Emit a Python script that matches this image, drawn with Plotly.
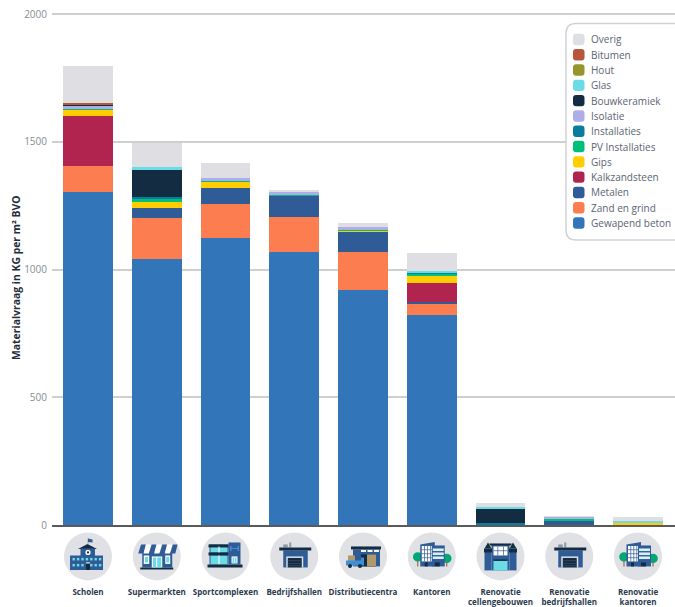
import plotly.graph_objects as go

categories = ["Scholen", "Supermarkten", "Sportcomplexen", "Bedrijfshallen", "Distributiecentra", "Kantoren",
              "Renovatie<br>cellengebouwen", "Renovatie<br>bedrijfshallen", "Renovatie<br>kantoren"]

beton = [1303, 1040, 1124, 1068, 920, 822, 0, 0, 0]
zand = [101, 161, 132, 137, 148, 43, 0, 0, 0]
metalen = [0, 39, 62, 83, 82, 8, 0, 17, 1]
kalkzandsteen = [196, 0, 0, 0, 0, 74, 0, 0, 0]
gips = [23, 23, 28, 0, 3, 27, 0, 0, 7]
pv = [8, 12, 4, 4, 3, 8, 0, 8, 1]
installaties = [1, 8, 0, 0, 0, 8, 6, 0, 0]
isolatie = [7, 0, 7, 15, 9, 0, 0, 8, 0]
bouwkeramiek = [8, 110, 0, 0, 0, 0, 59, 0, 0]
glas = [0, 7, 0, 0, 0, 4, 7, 0, 8]
hout = [0, 0, 0, 0, 0, 0, 0, 0, 0]
bitumen = [3, 0, 0, 0, 0, 0, 0, 0, 0]
overig = [145, 95, 59, 5, 17, 70, 16, 1, 16]

series = [
    ("Gewapend beton", beton, "#3375b9"),
    ("Zand en grind", zand, "#fc7d50"),
    ("Metalen", metalen, "#2f5b96"),
    ("Kalkzandsteen", kalkzandsteen, "#b0244f"),
    ("Gips", gips, "#ffcd00"),
    ("PV Installaties", pv, "#00bf7d"),
    ("Installaties", installaties, "#0a7d9e"),
    ("Isolatie", isolatie, "#aeadea"),
    ("Bouwkeramiek", bouwkeramiek, "#142c42"),
    ("Glas", glas, "#6bdce6"),
    ("Hout", hout, "#96962d"),
    ("Bitumen", bitumen, "#b8553a"),
    ("Overig", overig, "#dfdfe3"),
]

# plot area in page pixels, used for the decoration only
LEFT, RIGHT, TOP, BOTTOM = 52, 675, 11.5, 525.5
STEP = 68.75
FIRST = 88
PX_PER_UNIT = 0.256

NAVY = "#2f5b96"
DARK = "#142c42"
CYAN = "#6bdce6"
WHITE = "#ffffff"
GREY = "#dfe1e4"
GREEN = "#00a878"
BROWN = "#a8664e"
TAN = "#b09a6a"
SLATE = "#8d99a6"


def px(x):
    return (x - LEFT) / (RIGHT - LEFT)


def py(y):
    return (BOTTOM - y) / (BOTTOM - TOP)


shapes = []


def rect(x0, y0, x1, y1, color, layer="above"):
    shapes.append(dict(type="rect", xref="paper", yref="paper", x0=px(x0), x1=px(x1), y0=py(y0), y1=py(y1),
                       fillcolor=color, line_width=0, layer=layer))


def circle(cx, cy, r, color):
    shapes.append(dict(type="circle", xref="paper", yref="paper", x0=px(cx - r), x1=px(cx + r),
                       y0=py(cy - r), y1=py(cy + r), fillcolor=color, line_width=0, layer="above"))


def poly(points, color):
    path = "M" + "L".join(f"{px(x)},{py(y)}" for x, y in points) + "Z"
    shapes.append(dict(type="path", xref="paper", yref="paper", path=path, fillcolor=color, line_width=0, layer="above"))


def rounded(x0, y0, x1, y1, r, fill, line=None, width=0):
    # rounded box, written out in pixels and scaled by hand
    rx, ry = r / (RIGHT - LEFT), r / (BOTTOM - TOP)
    a, b, c, d = px(x0), px(x1), py(y0), py(y1)
    path = (f"M{a + rx},{c} L{b - rx},{c} Q{b},{c} {b},{c - ry} L{b},{d + ry} Q{b},{d} {b - rx},{d} "
            f"L{a + rx},{d} Q{a},{d} {a},{d + ry} L{a},{c - ry} Q{a},{c} {a + rx},{c} Z")
    shapes.append(dict(type="path", xref="paper", yref="paper", path=path, fillcolor=fill,
                       line=dict(color=line or fill, width=width), layer="above"))


def icon_school(c):
    poly([(c - 0.5, 544.5), (c + 9, 549.5), (c - 10, 549.5)], DARK)
    rect(c - 0.4, 539, c + 0.4, 545, SLATE)
    poly([(c, 539), (c + 4.5, 540), (c + 4.5, 543), (c, 542.5)], NAVY)
    rect(c - 7.5, 549, c + 7, 558, NAVY)
    rect(c - 18, 556, c + 15, 570.5, NAVY)
    circle(c, 553, 2.6, WHITE)
    circle(c, 553, 1.1, DARK)
    for i in range(7):
        x = c - 15.5 + i * 4.4
        rect(x, 558.5, x + 2.4, 561, CYAN)
        if i != 3:
            rect(x, 564.5, x + 2.4, 567, CYAN)
    rect(c - 2, 564, c + 2, 570.5, DARK)
    rect(c - 2, 563, c + 2, 564, WHITE)


def icon_shop(c):
    rect(c - 14.5, 553, c + 15.5, 568, NAVY)
    rect(c - 16.5, 568, c + 16.5, 570, DARK)
    for i in range(7):
        x = c - 18.5 + i * 5.3
        poly([(x + 2.8, 545), (x + 7.5, 545), (x + 5.3, 554), (x, 554)], WHITE if i % 2 else NAVY)
    rect(c - 13, 556, c - 7.5, 564.5, WHITE)
    rect(c - 11.8, 557.5, c - 8.7, 563, CYAN)
    rect(c + 8.5, 556, c + 13.5, 564.5, WHITE)
    rect(c + 9.5, 557.5, c + 12.5, 563, CYAN)
    rect(c - 5, 557, c + 5.5, 568, WHITE)
    rect(c - 3.8, 558, c - 0.5, 568, CYAN)
    rect(c + 0.5, 558, c + 4.5, 568, CYAN)


def icon_sport(c):
    rect(c + 3, 543, c + 15, 565, NAVY)
    rect(c - 16, 545, c + 3, 565, NAVY)
    rect(c - 15, 547, c + 2, 553, CYAN)
    rect(c - 15, 556, c + 2, 565, CYAN)
    rect(c - 17, 545, c + 3, 548, DARK)
    rect(c - 17, 553, c + 3, 556, DARK)
    rect(c - 7, 547, c - 6, 553, WHITE)
    rect(c - 7, 556, c - 6, 565, WHITE)
    rect(c + 5, 548.5, c + 13, 549.5, "#3f8fd6")
    rect(c + 4.5, 546.5, c + 6, 551.5, "#3f8fd6")
    rect(c + 12, 546.5, c + 13.5, 551.5, "#3f8fd6")
    rect(c + 6, 557, c + 12, 564, WHITE)
    rect(c + 7, 558, c + 8.7, 564, CYAN)
    rect(c + 9.3, 558, c + 11, 564, CYAN)
    rect(c - 18, 565, c + 17, 568, DARK)


def icon_hall(c):
    rect(c - 11, 545, c - 6.5, 548, SLATE)
    rect(c - 5, 543, c - 3, 548, SLATE)
    rect(c - 11, 551, c + 13.5, 568, NAVY)
    rect(c - 15, 548, c + 17, 551, DARK)
    rect(c - 8, 557, c + 9, 568, GREY)
    rect(c - 6.5, 558.5, c + 7.5, 568, DARK)
    for y in (561, 563.5, 566):
        rect(c - 6.5, y, c + 7.5, y + 0.7, "#3b5166")


def icon_depot(c):
    rect(c - 10, 550, c + 17, 567, NAVY)
    rect(c - 12, 547, c + 18, 550, DARK)
    for i in range(3):
        rect(c - 2 + i * 6.5, 550.5, c + 3 + i * 6.5, 552.5, WHITE)
    rect(c - 2, 555, c + 13, 567, DARK)
    rect(c + 4, 555, c + 13, 567, TAN)
    rect(c - 15, 556, c - 8, 566, TAN)
    poly([(c - 17, 561), (c - 2, 561), (c - 2, 558), (c + 1, 558), (c + 1, 566), (c - 17, 566)], "#3f8fd6")
    circle(c - 13, 566.5, 2, DARK)
    circle(c - 3, 566.5, 2, DARK)


def icon_office(c):
    circle(c - 14, 557.5, 4.8, GREEN)
    rect(c - 14.6, 561, c - 13.4, 567, BROWN)
    circle(c + 15, 559, 4.8, GREEN)
    rect(c + 14.4, 562, c + 15.6, 567, BROWN)
    poly([(c - 11.5, 545), (c + 3, 542.5), (c + 3, 567), (c - 11.5, 567)], NAVY)
    rect(c, 546, c + 13, 567, NAVY)
    rect(c - 10, 546.5, c, 562, WHITE)
    for x in (c - 7.5, c - 4.5, c - 1.5):
        rect(x, 546.5, x + 0.7, 562, NAVY)
    for y in (550, 554, 558):
        rect(c - 10, y, c, y + 0.7, NAVY)
    for y in (549, 553, 557):
        rect(c + 1, y, c + 12, y + 2.6, "#d8eef5")
    rect(c - 7, 563, c - 4, 567, DARK)
    rect(c + 3, 563, c + 8, 567, DARK)


def icon_cells(c):
    rect(c - 9, 545, c + 9, 571, NAVY)
    rect(c - 11, 544, c + 11, 546, DARK)
    for tx in (c - 12.5, c + 12.5):
        rect(tx - 3.5, 550, tx + 3.5, 571, NAVY)
        rect(tx - 4, 549, tx + 4, 553, DARK)
        poly([(tx, 543), (tx + 3.5, 549), (tx - 3.5, 549)], DARK)
    rect(c - 7, 547, c + 7, 556, WHITE)
    for x in (c - 3, c + 2.5):
        rect(x, 547, x + 0.7, 556, NAVY)
    rect(c - 7, 551, c + 7, 551.7, NAVY)
    rect(c - 7, 561, c + 7, 571, CYAN)
    rect(c - 7, 560, c + 7, 561.5, DARK)


icons = [icon_school, icon_shop, icon_sport, icon_hall, icon_depot, icon_office, icon_cells, icon_hall, icon_office]
for i, draw in enumerate(icons):
    c = FIRST + i * STEP
    circle(c, 557, 24, GREY)
    draw(c)

# legend box on the right, runs off the page like in the original
rounded(566, 23, 690, 240, 10, WHITE, "#d0d2d6", 1.5)
annotations = []
for i, (name, values, color) in enumerate(reversed(series)):
    y = 39 + i * 15.33
    rounded(573, y - 5.7, 584.5, y + 5.7, 3, color)
    annotations.append(dict(text=name, xref="paper", yref="paper", x=px(590), y=py(y), xanchor="left", yanchor="middle",
                            showarrow=False, xshift=-1, font=dict(size=10, color="#5b6472")))

annotations.append(dict(text="<b>Materialvraag in KG per m² BVO</b>", xref="paper", yref="paper", x=px(16), y=py(278),
                        textangle=-90, xanchor="center", yanchor="middle", showarrow=False,
                        font=dict(size=10.4, color="#1f2d3d")))

fig = go.Figure()
for name, values, color in series:
    fig.add_trace(go.Bar(name=name, x=categories, y=values, marker=dict(color=color, line_width=0), showlegend=False))

fig.update_layout(
    barmode="stack",
    bargap=0.273,
    width=675,
    height=607,
    margin=dict(l=LEFT, r=0, t=TOP, b=607 - BOTTOM),
    plot_bgcolor="white",
    paper_bgcolor="white",
    font=dict(family="Open Sans"),
    shapes=shapes,
    annotations=annotations,
)
fig.update_xaxes(
    type="category",
    automargin=False,
    range=[(LEFT - FIRST) / STEP, (RIGHT - FIRST) / STEP],
    tickangle=0,
    ticks="",
    ticklabelstandoff=58,
    tickfont=dict(size=8, color="#2b3a4d", weight="bold"),
    showline=True,
    linecolor="#5a5a5a",
    linewidth=2,
    showgrid=False,
    layer="above traces",
)
# the top of the range sits a little past 2000, otherwise plotly drops that gridline
fig.update_yaxes(
    automargin=False,
    range=[0, (BOTTOM - TOP) / PX_PER_UNIT],
    tickvals=[0, 500, 1000, 1500, 2000],
    tickfont=dict(size=10, color="#868c96"),
    gridcolor="#cfcfcf",
    gridwidth=1.5,
    zeroline=False,
    ticks="",
    ticklabelstandoff=4,
)

# drop the page's default body margin so the figure fills the window
fig.write_html("out.html", config={"displayModeBar": False},
               post_script="document.body.style.margin='0';document.documentElement.style.overflow='hidden';")
